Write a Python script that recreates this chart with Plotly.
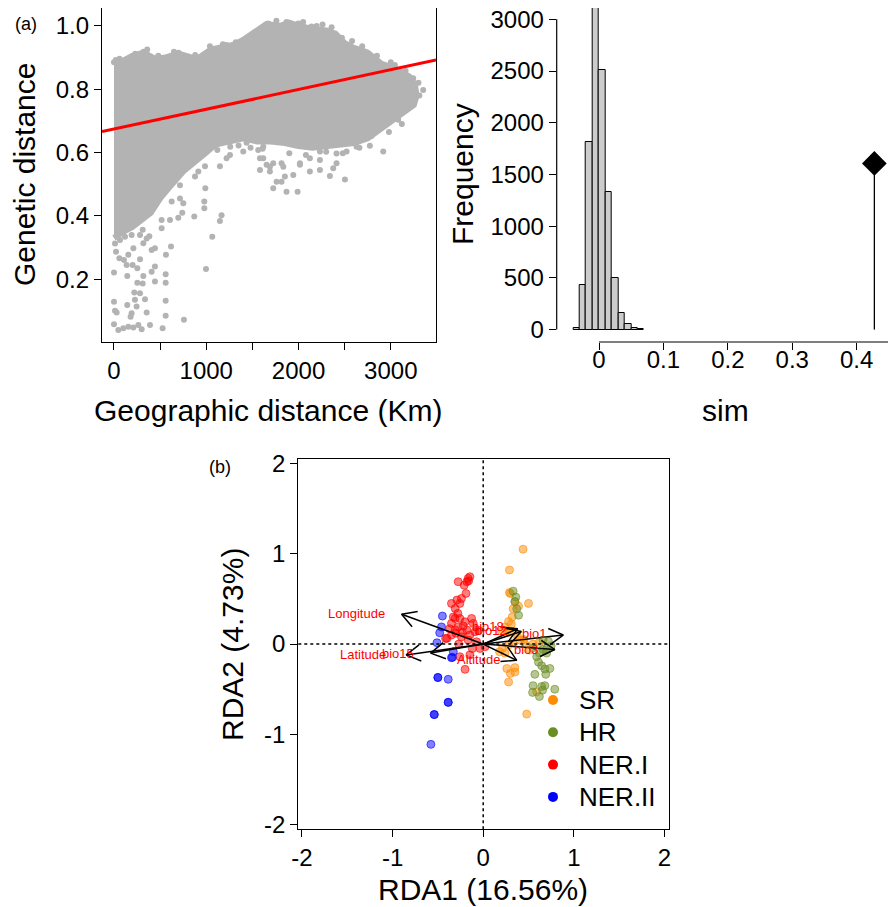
import math
import plotly.graph_objects as go

# (a) left: Mantel scatter
cloud_km = [0, 100, 200, 320, 450, 560, 700, 900, 1050, 1200, 1300, 1400, 1500, 1650, 1800, 1900, 2000, 2150, 2300, 2400,
            2500, 2600, 2750, 2900, 3050, 3200, 3260, 3280, 3250, 3100, 2950, 2850, 2750, 2600, 2450, 2300, 2150, 2000,
            1850, 1700, 1550, 1400, 1250, 1100, 1000, 900, 750, 600, 500, 400, 300, 200, 100, 0]
cloud_gd = [0.886, 0.89, 0.905, 0.915, 0.895, 0.90, 0.912, 0.895, 0.925, 0.935, 0.94, 0.955, 0.975, 1.005, 1.0, 1.01, 1.0,
            0.99, 0.985, 0.975, 0.945, 0.93, 0.915, 0.88, 0.865, 0.84, 0.815, 0.78, 0.75, 0.72, 0.69, 0.665, 0.645, 0.63,
            0.625, 0.62, 0.615, 0.62, 0.63, 0.635, 0.635, 0.645, 0.635, 0.625, 0.60, 0.575, 0.54, 0.49, 0.455, 0.41, 0.385,
            0.365, 0.35, 0.33]

geo_km = [0, 144, 318, 408, 444, 311, 253, 444, 560, 560, 560, 560, 527, 758, 997, 1065, 1148, 1166, 979, 979, 990, 870,
          740, 697, 618, 563, 516, 444, 0, 11, 29, 0, 47, 101, 155, 210, 264, 300, 390, 354, 191, 180, 144, 227, 282, 220,
          336, 245, 137, 202, 253, 58, 108, 282, 22, 155, 210, 318, 408, 354, 11, 65, 119, 191, 282, 383, 311, 607, 751,
          715, 625, 516, 715, 878, 914, 986, 1220, 1148, 1257,
          1563, 1582, 1582, 1654, 1690, 1726, 1762, 1816, 1870, 1990, 1852, 1943, 2015, 2123, 2232, 2340, 1726, 1816, 1618,
          2123, 2232, 2376, 2412, 1401, 1437,
          2918, 2773, 2629, 2503, 2412, 1835, 1690, 1618, 2015, 3080, 3134, 3225, 3351, 2936, 2864, 2791, 2521, 2232,
          1907, 1997, 2196, 2358, 1672, 1546, 1455, 2719, 2809, 3044, 3243, 1219, 700, 320, 230, 0,
          2050, 2140, 2260, 2470, 2580, 2690, 2850, 3000, 3160, 1760, 1870, 1320, 1180, 1040, 880, 650, 480, 360, 60, 20,
          1350, 1480, 1610, 1120, 1260, 2480, 2660, 2980, 3120, 3300, 3310, 1900, 2080, 2300]
gen_dist = [0.221, 0.210, 0.210, 0.224, 0.240, 0.187, 0.189, 0.193, 0.216, 0.189, 0.132, 0.085, 0.045, 0.072, 0.232, 0.334,
            0.384, 0.402, 0.445, 0.424, 0.487, 0.398, 0.410, 0.394, 0.303, 0.277, 0.361, 0.298, 0.129, 0.101, 0.095, 0.058,
            0.040, 0.045, 0.050, 0.048, 0.056, 0.042, 0.056, 0.095, 0.093, 0.082, 0.119, 0.135, 0.156, 0.158, 0.137, 0.114,
            0.245, 0.245, 0.235, 0.266, 0.261, 0.263, 0.287, 0.277, 0.298, 0.314, 0.292, 0.329, 0.313, 0.324, 0.334, 0.340,
            0.340, 0.336, 0.356, 0.387, 0.440, 0.455, 0.445, 0.387, 0.497, 0.524, 0.540, 0.557, 0.582, 0.557, 0.592,
            0.608, 0.582, 0.545, 0.561, 0.540, 0.487, 0.508, 0.508, 0.476, 0.476, 0.524, 0.529, 0.561, 0.540, 0.545, 0.526,
            0.566, 0.566, 0.618, 0.582, 0.576, 0.550, 0.597, 0.603, 0.631,
            0.603, 0.621, 0.618, 0.515, 0.566, 0.555, 0.555, 0.582, 0.566, 0.703, 0.739, 0.755, 0.797, 0.713, 0.676, 0.652,
            0.603, 0.603,
            1.002, 1.007, 0.999, 0.995, 1.007, 0.971, 0.965, 0.918, 0.886, 0.876, 0.834, 0.939, 0.915, 0.918, 0.912, 0.885,
            1.012, 0.998, 1.004, 0.962, 0.952, 0.935, 0.905, 0.885, 0.858, 1.016, 1.012, 0.948, 0.942, 0.935, 0.908, 0.918,
            0.905, 0.925, 0.896, 0.892,
            0.622, 0.615, 0.612, 0.608, 0.618, 0.598, 0.615, 0.665, 0.69, 0.82, 0.78, 0.598, 0.592, 0.602]

fit_intercept = 0.674
fit_slope = 6.24e-5

# (a) right: randomisation test histogram
bin_mid = [-0.035, -0.025, -0.015, -0.005, 0.005, 0.015, 0.025, 0.035, 0.045, 0.055, 0.065]
bin_freq = [16, 430, 1810, 3400, 2509, 1335, 498, 162, 55, 16, 6]
sim_obs = 0.4275
obs_height = 1607

# (b) RDA biplot
sr_x = [0.44, 0.29, 0.29, 0.30, 0.35, 0.39, 0.50, 0.33, 0.32, 0.28, 0.31, 0.24, 0.20, 0.29, 0.26, 0.405, 0.33, 0.28, 0.21,
        0.24, 0.18, 0.515, 0.46, 0.26, 0.30, 0.35, 0.35, 0.28, 0.48, 0.59, 0.45, 0.38, 0.55, 0.62]
sr_y = [1.05, 0.82, 0.57, 0.56, 0.47, 0.42, 0.45, 0.39, 0.30, 0.25, 0.22, 0.19, 0.14, 0.13, 0.14, 0.044, 0.01, -0.01, -0.05,
        -0.10, -0.085, -0.066, 0.0, -0.27, -0.325, -0.26, -0.31, -0.42, -0.775, -0.53, 0.05, 0.08, 0.0, 0.02]
hr_x = [0.33, 0.36, 0.35, 0.37, 0.39, 0.59, 0.61, 0.645, 0.68, 0.736, 0.69, 0.57, 0.55, 0.645, 0.68, 0.79, 0.545, 0.62,
        0.655, 0.70, 0.66, 0.70, 0.66, 0.75, 0.62, 0.55, 0.72]
hr_y = [0.586, 0.52, 0.47, 0.39, 0.32, -0.14, -0.20, -0.24, -0.276, -0.27, -0.335, -0.335, -0.46, -0.47, -0.46, -0.50,
        -0.535, -0.58, -0.51, -0.05, 0.044, -0.10, -0.06, -0.02, -0.1, -0.04, 0.03]
ner1_x = [-0.166, -0.18, -0.147, -0.21, -0.276, -0.16, -0.19, -0.24, -0.29, -0.257, -0.35, -0.31, -0.28, -0.31, -0.257,
          -0.35, -0.20, -0.128, -0.11, -0.276, -0.18, -0.09, -0.40, -0.415, -0.35, -0.24, -0.147, -0.31, -0.37, -0.166,
          -0.073, 0.02, -0.036, -0.20, -0.257, -0.147, -0.30, -0.22, -0.33, -0.27, -0.12, -0.05, -0.23]
ner1_y = [0.727, 0.69, 0.745, 0.65, 0.69, 0.70, 0.56, 0.505, 0.487, 0.45, 0.45, 0.395, 0.34, 0.284, 0.284, 0.229, 0.247,
          0.284, 0.229, 0.19, 0.155, 0.136, 0.063, 0.063, 0.10, 0.08, 0.10, 0.155, 0.17, 0.044, 0.025, -0.03, -0.048,
          -0.28, -0.14, -0.12, 0.12, 0.20, 0.30, 0.00, -0.05, 0.15, 0.13]
ner2_x = [-0.45, -0.46, -0.48, -0.51, -0.33, -0.34, -0.50, -0.50, -0.386, -0.386, -0.386, -0.54, -0.54, -0.577, -0.35]
ner2_y = [0.31, 0.19, 0.125, 0.015, -0.085, -0.147, -0.37, -0.37, -0.39, -0.645, -0.645, -0.78, -0.78, -1.11, -0.15]

env_names = ["Longitude", "Latitude", "bio15", "bio18", "bio12", "bio1", "bio3", "Altitude"]
env_x = [-0.90, -0.85, -0.58, 0.38, 0.42, 0.883, 0.79, 0.37]
env_y = [0.33, -0.12, -0.10, 0.17, 0.14, 0.10, -0.06, -0.18]
lab_x = [-1.40, -1.33, -0.94, 0.055, 0.09, 0.57, 0.48, -0.055]
lab_y = [0.34, -0.12, -0.10, 0.20, 0.147, 0.118, -0.055, -0.166]

legend_names = ["SR", "HR", "NER.I", "NER.II"]
legend_colors = ["rgb(255,140,0)", "rgb(107,142,35)", "rgb(255,0,0)", "rgb(0,0,255)"]

W, H = 896, 907
OFF = 8  # the page body adds an 8px margin
FONT = "Liberation Sans, Arial, sans-serif"


def px(x):
    return (x - OFF) / W


def py(y):
    return min(1.0, 1 - (y - OFF) / H)


fig = go.Figure()

# scatter panel
fig.add_trace(go.Scatter(x=cloud_km, y=cloud_gd, mode="lines", fill="toself", fillcolor="#b3b3b3",
                         line=dict(color="#b3b3b3", width=6), hoverinfo="skip", showlegend=False,
                         xaxis="x", yaxis="y"))
fig.add_trace(go.Scatter(x=geo_km, y=gen_dist, mode="markers", marker=dict(color="#b3b3b3", size=6),
                         showlegend=False, xaxis="x", yaxis="y"))
xr = [-130, 3490]
fig.add_trace(go.Scatter(x=xr, y=[fit_intercept + fit_slope * v for v in xr], mode="lines",
                         line=dict(color="#ff0000", width=3), showlegend=False, xaxis="x", yaxis="y"))

# histogram panel
fig.add_trace(go.Bar(x=bin_mid, y=bin_freq, width=0.01, marker=dict(color="#cccccc", line=dict(color="black", width=1)),
                     showlegend=False, xaxis="x2", yaxis="y2"))
fig.add_trace(go.Scatter(x=[sim_obs, sim_obs], y=[0, obs_height], mode="lines", line=dict(color="black", width=1.3),
                         showlegend=False, xaxis="x2", yaxis="y2"))
fig.add_trace(go.Scatter(x=[sim_obs], y=[obs_height], mode="markers",
                         marker=dict(symbol="diamond", color="black", size=19), showlegend=False,
                         xaxis="x2", yaxis="y2"))

# RDA panel
groups = [(sr_x, sr_y, "255,140,0"), (hr_x, hr_y, "107,142,35"),
          (ner1_x, ner1_y, "255,0,0"), (ner2_x, ner2_y, "0,0,255")]
for gx, gy, rgb in groups:
    fig.add_trace(go.Scatter(x=gx, y=gy, mode="markers", showlegend=False,
                             marker=dict(size=8, color="rgba(%s,0.5)" % rgb,
                                         line=dict(width=1, color="rgba(%s,0.6)" % rgb)),
                             xaxis="x3", yaxis="y3"))

ax, ay = [], []
head = 0.18
for ex, ey in zip(env_x, env_y):
    ang = math.atan2(ey, ex)
    ax += [0, ex, None]
    ay += [0, ey, None]
    h1 = (ex - head * math.cos(ang - math.radians(30)), ey - head * math.sin(ang - math.radians(30)))
    h2 = (ex - head * math.cos(ang + math.radians(30)), ey - head * math.sin(ang + math.radians(30)))
    ax += [h1[0], ex, h2[0], None]
    ay += [h1[1], ey, h2[1], None]
fig.add_trace(go.Scatter(x=ax, y=ay, mode="lines", line=dict(color="black", width=1.5), showlegend=False,
                         xaxis="x3", yaxis="y3"))

ann = []
for n, lx, ly in zip(env_names, lab_x, lab_y):
    ann.append(dict(x=lx, y=ly, xref="x3", yref="y3", text=n, showarrow=False,
                    font=dict(size=13, color="#ff0000", family=FONT)))

titles = [
    ("Genetic distance", 24, 175, -90),
    ("Geographic distance (Km)", 268, 410, 0),
    ("Frequency", 463, 174, -90),
    ("sim", 725, 410, 0),
    ("RDA2 (4.73%)", 232, 645, -90),
    ("RDA1 (16.56%)", 483, 889, 0),
]
for t, x, y, rot in titles:
    ann.append(dict(x=px(x), y=py(y), xref="paper", yref="paper", text=t, showarrow=False, textangle=rot,
                    xanchor="center", yanchor="middle", font=dict(size=30, color="black", family=FONT)))
for t, x, y in [("(a)", 25.5, 23.5), ("(b)", 219.5, 466.5)]:
    ann.append(dict(x=px(x), y=py(y), xref="paper", yref="paper", text=t, showarrow=False,
                    xanchor="center", yanchor="middle", font=dict(size=18, color="black", family=FONT)))

# top panels: the top pixel row sits above the page, so the domain tops are clamped
top_dom = [py(342), py(8)]
sc_rng = [0.002, 1.056]
hx_dom = [px(556.7), px(894)]
hx_rng = [-0.0657, 0.458]
hy_rng = [-120, 3110]


def hx_paper(v):
    return hx_dom[0] + (v - hx_rng[0]) / (hx_rng[1] - hx_rng[0]) * (hx_dom[1] - hx_dom[0])


def hy_paper(v):
    return top_dom[0] + (v - hy_rng[0]) / (hy_rng[1] - hy_rng[0]) * (top_dom[1] - top_dom[0])


shapes = [
    dict(type="line", xref="paper", yref="paper", x0=hx_dom[0], x1=hx_dom[0], y0=hy_paper(0), y1=hy_paper(3000),
         line=dict(color="black", width=1.2)),
    dict(type="line", xref="paper", yref="paper", x0=hx_paper(0), x1=hx_paper(0.4545), y0=top_dom[0], y1=top_dom[0],
         line=dict(color="black", width=1.2)),
    dict(type="line", xref="x3", yref="y3 domain", x0=0, x1=0, y0=0, y1=1,
         line=dict(color="black", width=1.5, dash="dot")),
    dict(type="line", xref="x3 domain", yref="y3", x0=0, x1=1, y0=0, y1=0,
         line=dict(color="black", width=1.5, dash="dot")),
]

# legend of panel (b), drawn by hand so the row spacing matches
for i, (n, c) in enumerate(zip(legend_names, legend_colors)):
    cy = 700 + i * 32.3
    shapes.append(dict(type="circle", xref="paper", yref="paper", x0=px(548), x1=px(558), y0=py(cy + 5), y1=py(cy - 5),
                       fillcolor=c, line=dict(width=0)))
    ann.append(dict(x=px(577), y=py(cy), xref="paper", yref="paper", text=n, showarrow=False,
                    xanchor="left", yanchor="middle", font=dict(size=26, color="black", family=FONT)))

axis_common = dict(showgrid=False, zeroline=False, ticks="outside", ticklen=7, tickwidth=1.2, tickcolor="black",
                   automargin=False, ticklabeloverflow="allow", tickfont=dict(size=24, color="black", family=FONT))

fig.update_layout(
    width=W, height=H, margin=dict(l=0, r=0, t=0, b=0, autoexpand=False),
    paper_bgcolor="white", plot_bgcolor="white",
    font=dict(family=FONT, color="black"),
    showlegend=False,
    xaxis=dict(domain=[px(102), px(436)], range=xr, anchor="y",
               tickvals=[0, 500, 1000, 1500, 2000, 2500, 3000], ticktext=["0", "", "1000", "", "2000", "", "3000"],
               showline=True, mirror=True, linecolor="black", linewidth=1.3, **axis_common),
    yaxis=dict(domain=top_dom, range=sc_rng, anchor="x",
               tickvals=[0.2, 0.4, 0.6, 0.8, 1.0], ticktext=["0.2", "0.4", "0.6", "0.8", "1.0"],
               showline=True, mirror=True, linecolor="black", linewidth=1.3, **axis_common),
    xaxis2=dict(domain=hx_dom, range=hx_rng, anchor="y2",
                tickvals=[0, 0.1, 0.2, 0.3, 0.4], ticktext=["0", "0.1", "0.2", "0.3", "0.4"],
                showline=False, ticklabelstandoff=-11, **axis_common),
    yaxis2=dict(domain=top_dom, range=hy_rng, anchor="x2",
                tickvals=[0, 500, 1000, 1500, 2000, 2500, 3000], showline=False, **axis_common),
    xaxis3=dict(domain=[px(298.3), px(669)], range=[-2.04, 2.05], anchor="y3",
                tickvals=[-2, -1, 0, 1, 2], ticktext=["-2", "-1", "0", "1", "2"],
                showline=True, mirror=True, linecolor="black", linewidth=1.3, **axis_common),
    yaxis3=dict(domain=[py(829.3), py(459.3)], range=[-2.05, 2.045], anchor="x3",
                tickvals=[-2, -1, 0, 1, 2], ticktext=["-2", "-1", "0", "1", "2"],
                showline=True, mirror=True, linecolor="black", linewidth=1.3, **axis_common),
    annotations=ann,
    shapes=shapes,
    bargap=0,
)

fig.write_html("out.html")
